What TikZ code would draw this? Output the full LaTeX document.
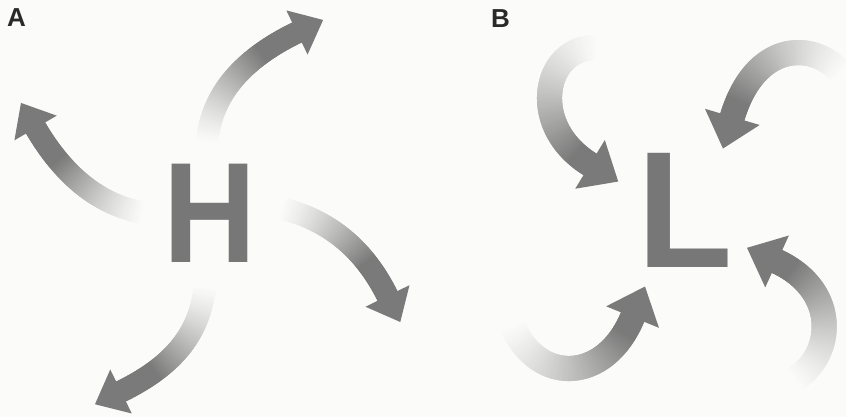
\documentclass[tikz,border=0pt]{standalone}
\usepackage{graphicx}
\usepackage{fontspec}
\setmainfont{Liberation Sans}
\usetikzlibrary{decorations.markings}
\definecolor{arrowgray}{HTML}{7A7A7A}
\definecolor{lettergray}{HTML}{777777}
\definecolor{paper}{HTML}{FBFBF9}
\definecolor{labelink}{HTML}{2A2A2A}
\tikzset{
  gradarrow/.style n args={4}{% shaft width, head base, head length, ramp fraction
    postaction={decoration={markings,
      mark=between positions 0 and 1 step 0.6pt with {%
        \pgfmathtruncatemacro\gpct{100*(min(1,\pgfkeysvalueof{/pgf/decoration/mark info/distance from start}/(#4*\pgfdecoratedpathlength)))^1.3}%
        \fill[arrowgray!\gpct!paper] (-0.7pt,-#1/2) rectangle (0.7pt,#1/2);
      }}, decorate},
    postaction={decoration={markings,
      mark=at position 0.999 with {%
        \fill[arrowgray] (-1pt,-#2/2) -- (#3,0pt) -- (-1pt,#2/2) -- cycle;
      }}, decorate}
  },
  arrowA/.style={gradarrow={22pt}{49pt}{28pt}{0.72}},
  arrowB/.style={gradarrow={25pt}{57pt}{32pt}{0.88}},
  bigletter/.style={inner sep=0pt, text=lettergray, font=\bfseries\fontsize{#1}{#1}\selectfont},
  panellabel/.style={inner sep=0pt, text=labelink, font=\bfseries\fontsize{26}{26}\selectfont}
}
\begin{document}
\begin{tikzpicture}[x=1pt,y=1pt]
\fill[paper] (0,0) rectangle (846,417);
\useasboundingbox (0,0) rectangle (846,417);

% panel labels
\node[panellabel, anchor=base west] (labA) at (7,390) {A};
\node[panellabel, anchor=base west] (labB) at (491,389) {B};

% letters
\node[bigletter=143, anchor=base] (H) at (210,154) {\scalebox{0.9}[1]{H}};
\node[bigletter=166, anchor=base west] (L) at (637,149) {\scalebox{0.94}[1]{L}};

% panel A arrow end points
\coordinate (a1s) at (207,272); \coordinate (a1e) at (298,385);
\coordinate (a2s) at (145,204); \coordinate (a2e) at (35,290);
\coordinate (a3s) at (280,209); \coordinate (a3e) at (388,120);
\coordinate (a4s) at (205,132); \coordinate (a4e) at (120,25);

\path[arrowA] (a1s) .. controls (210,327) and (250,362) .. (a1e);
\path[arrowA] (a2s) .. controls (95,212) and (60,247) .. (a2e);
\path[arrowA] (a3s) .. controls (330,197) and (365,167) .. (a3e);
\path[arrowA] (a4s) .. controls (200,77) and (165,47) .. (a4e);

% panel B arrow end points
\coordinate (b1s) at (600,369); \coordinate (b1e) at (591,252);
\coordinate (b2s) at (843,342); \coordinate (b2e) at (732,299);
\coordinate (b3s) at (511,95);  \coordinate (b3e) at (633,101);
\coordinate (b4s) at (792,36);  \coordinate (b4e) at (776,156);

\path[arrowB] (b1s) .. controls (545,375) and (525,292) .. (b1e);
\path[arrowB] (b2s) .. controls (815,377) and (755,377) .. (b2e);
\path[arrowB] (b3s) .. controls (535,32) and (605,32) .. (b3e);
\path[arrowB] (b4s) .. controls (835,60) and (840,127) .. (b4e);
\end{tikzpicture}
\end{document}
